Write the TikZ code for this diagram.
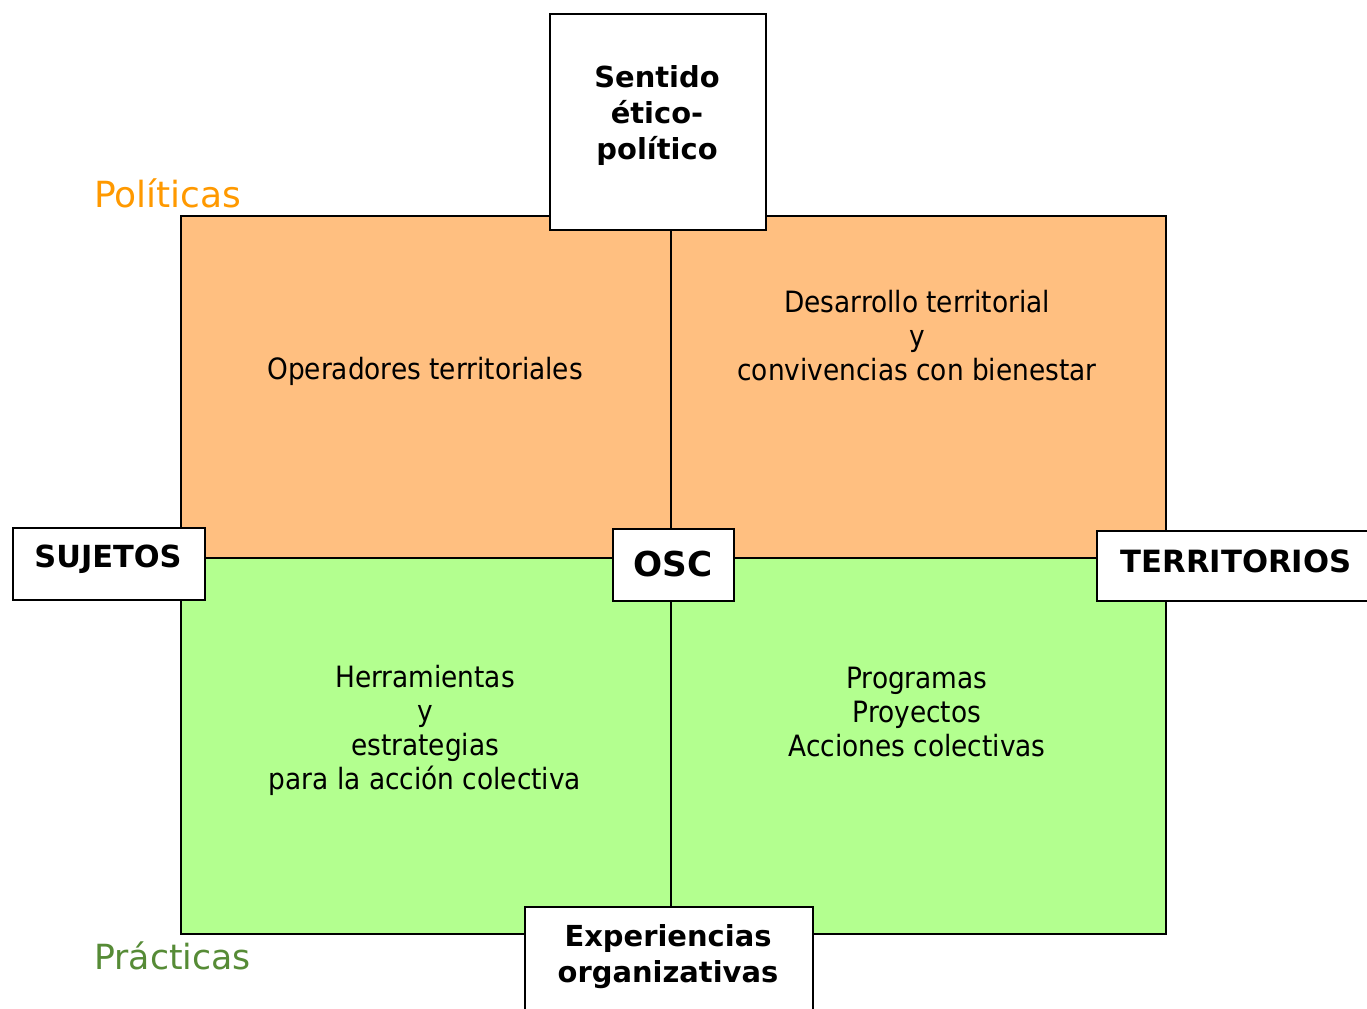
\documentclass[tikz,border=0pt]{standalone}
\usepackage{fontspec}
\setmainfont{DejaVu Sans}
\newfontfamily\condfont{DejaVu Sans Condensed}
\definecolor{quadorange}{HTML}{FFBF80}
\definecolor{quadgreen}{HTML}{B3FF8F}
\definecolor{polorange}{HTML}{FF9900}
\definecolor{pracgreen}{HTML}{568B36}
\begin{document}
\begin{tikzpicture}[x=0.75pt,y=-0.75pt,
  quad/.style={draw=black,line width=1.5pt,inner sep=0pt,anchor=north west},
  wbox/.style={draw=black,line width=1.5pt,fill=white,inner sep=0pt,anchor=north west},
  body/.style={font=\condfont\fontsize{22}{25.5}\selectfont,align=center,inner sep=0pt,anchor=center},
  boldtxt/.style={font=\bfseries\fontsize{21.7}{27}\selectfont,align=center,inner sep=0pt,anchor=center},
  axis/.style={font=\fontsize{27}{30}\selectfont,inner sep=0pt,anchor=west}]
\useasboundingbox (0,0) rectangle (1367,1009);
% quadrants
\node (tl) [quad,fill=quadorange,minimum width={490*0.75pt},minimum height={342*0.75pt}] at (180,215) {};
\node (tr) [quad,fill=quadorange,minimum width={495*0.75pt},minimum height={342*0.75pt}] at (670,215) {};
\node (bl) [quad,fill=quadgreen,minimum width={490*0.75pt},minimum height={376*0.75pt}] at (180,557) {};
\node (br) [quad,fill=quadgreen,minimum width={495*0.75pt},minimum height={376*0.75pt}] at (670,557) {};
% quadrant texts
\node (t1) [body] at (425,371) {Operadores territoriales};
\node (t2) [body] at (917,336) {Desarrollo territorial\\y\\convivencias con bienestar};
\node (t3) [body] at (425,730) {Herramientas\\y\\estrategias\\para la acción colectiva};
\node (t4) [body] at (917,712) {Programas\\Proyectos\\Acciones colectivas};
% axis labels
\node (pol) [axis,text=polorange] at (94,193) {Políticas};
\node (pra) [axis,text=pracgreen,font=\fontsize{26}{30}\selectfont] at (94,956) {Prácticas};
% white boxes
\node (sent) [wbox,minimum width={216*0.75pt},minimum height={216*0.75pt}] at (549,13) {};
\node (sentt) [boldtxt] at (657,116) {Sentido\\ético-\\político};
\node (suj) [wbox,minimum width={192*0.75pt},minimum height={72*0.75pt}] at (12,527) {};
\node (sujt) [boldtxt,font=\bfseries\fontsize{22.8}{27}\selectfont] at (108,559) {SUJETOS};
\node (osc) [wbox,minimum width={121*0.75pt},minimum height={72*0.75pt}] at (612,528) {};
\node (osct) [boldtxt,font=\bfseries\fontsize{25.7}{30}\selectfont] at (673,564) {OSC};
\node (ter) [wbox,minimum width={290*0.75pt},minimum height={70*0.75pt}] at (1096,530) {};
\node (tert) [boldtxt,font=\bfseries\fontsize{23}{27}\selectfont] at (1236,561) {TERRITORIOS};
\node (exp) [wbox,minimum width={288*0.75pt},minimum height={120*0.75pt}] at (524,906) {};
\node (expt) [boldtxt] at (668,957) {Experiencias\\organizativas};
\end{tikzpicture}
\end{document}
